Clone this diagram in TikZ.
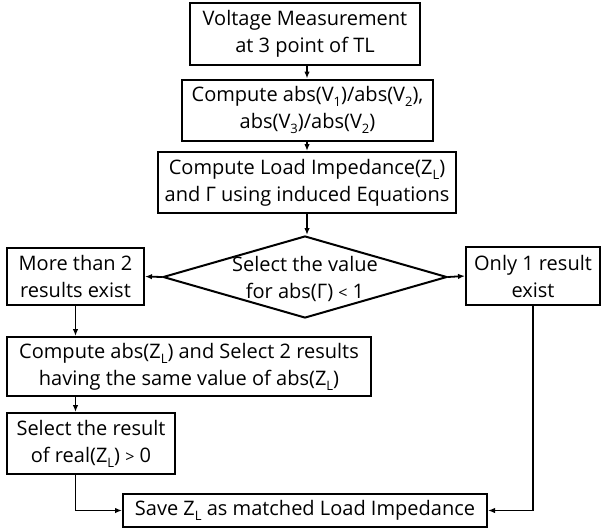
\documentclass[tikz,border=0pt]{standalone}
\usepackage{fontspec}
\setmainfont{Open Sans}
\usetikzlibrary{shapes.geometric,arrows.meta}
\newcommand\lsub[1]{\raisebox{-0.45ex}{\fontsize{13}{13}\selectfont #1}}
\begin{document}
\begin{tikzpicture}[x=1pt,y=-1pt,
  box/.style={draw, line width=2pt, inner sep=0pt, align=center,
    font=\fontsize{20}{27}\selectfont},
  arr/.style={line width=1.8pt, -{Latex[length=7pt,width=5.5pt]}},
  txt/.style={inner sep=0pt, align=center, font=\fontsize{20}{27}\selectfont}]
\useasboundingbox (0,0) rectangle (601,530);
\node[box, minimum width=230pt, minimum height=62pt] (b1) at (305,34) {Voltage Measurement\\at 3 point of TL};
\node[box, minimum width=251pt, minimum height=61pt] (b2) at (307.5,110) {Compute abs(V\lsub{1})/abs(V\lsub{2}),\\abs(V\lsub{3})/abs(V\lsub{2})};
\node[box, minimum width=298pt, minimum height=61pt] (b3) at (307,182.5) {Compute Load Impedance(Z\lsub{L})\\and Γ using induced Equations};
\node[draw, line width=2pt, shape=diamond, inner sep=0pt, minimum width=284pt, minimum height=82pt] (d) at (305,277) {};
\node[txt] (dt) at (305,279) {Select the value\\for abs(Γ) {\fontsize{16}{16}\selectfont<} 1};
\node[box, minimum width=137pt, minimum height=57pt] (l) at (75.5,276.5) {More than 2\\results exist};
\node[box, minimum width=134pt, minimum height=58pt] (r) at (533,276) {Only 1 result\\exist};
\node[box, minimum width=364pt, minimum height=59pt] (c) at (189,366.5) {Compute abs(Z\lsub{L}) and Select 2 results\\having the same value of abs(Z\lsub{L})};
\node[box, minimum width=168pt, minimum height=61pt] (s) at (91,443.5) {Select the result\\of real(Z\lsub{L}) {\fontsize{16}{16}\selectfont>} 0};
\node[box, minimum width=364pt, minimum height=33pt] (v) at (305,510.5) {Save Z\lsub{L} as matched Load Impedance};
\coordinate (ax) at (307,0);
\draw[arr] (b1.south -| ax) -- (b2.north -| ax);
\draw[arr] (b2.south -| ax) -- (b3.north -| ax);
\draw[arr] (b3.south -| ax) -- (d.north -| ax);
\draw[arr] (d.west) -- (l.east);
\draw[arr] (d.east) -- (r.west);
\draw[arr] (l.south) -- (c.north -| l);
\draw[arr] (c.south -| l) -- (s.north -| l);
\draw[arr] (s.south -| l) |- (v.west);
\draw[arr] (r.south) |- (v.east);
\end{tikzpicture}
\end{document}
